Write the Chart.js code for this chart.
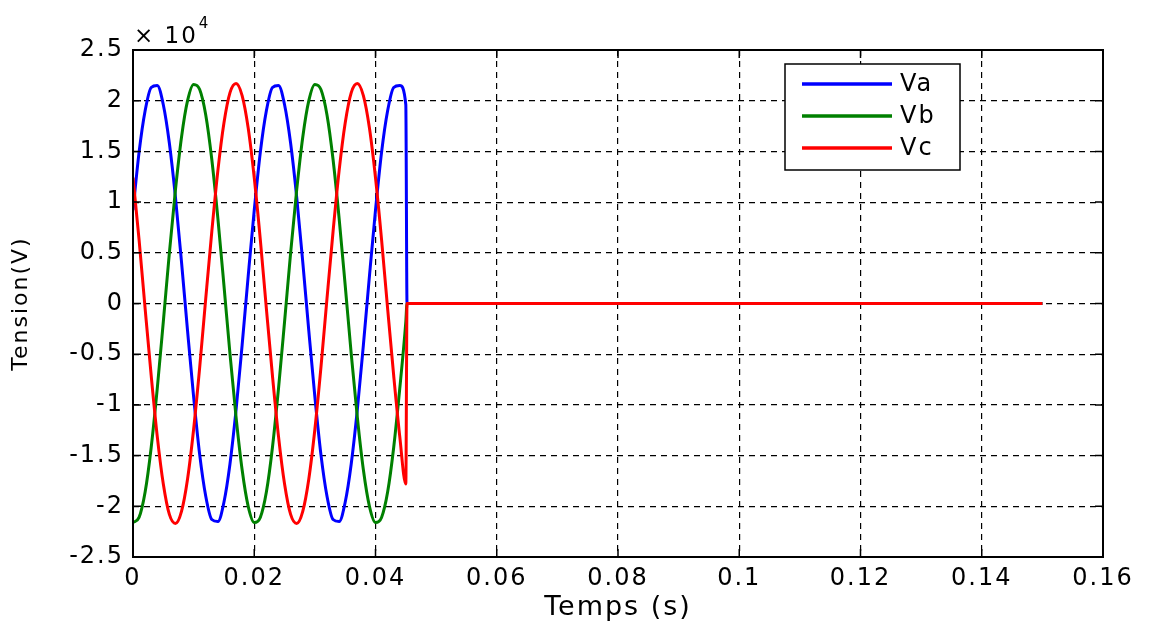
<!DOCTYPE html>
<html>
<head>
<meta charset="utf-8">
<title>Tension</title>
<script src="https://cdn.jsdelivr.net/npm/chart.js@4.4.1/dist/chart.umd.min.js"></script>
<style>
  body { margin: 0; background: #fff; }
  #wrap { width: 1149px; height: 624px; position: relative; }
</style>
</head>
<body>
<div id="wrap"><canvas id="tensionChart"></canvas></div>
<script>
// time in seconds (1 ms samples up to the fault, then the flat zero part)
const timeS = [
  0, 0.001, 0.002, 0.003, 0.004, 0.005, 0.006, 0.007, 0.008, 0.009,
  0.010, 0.011, 0.012, 0.013, 0.014, 0.015, 0.016, 0.017, 0.018, 0.019,
  0.020, 0.021, 0.022, 0.023, 0.024, 0.025, 0.026, 0.027, 0.028, 0.029,
  0.030, 0.031, 0.032, 0.033, 0.034, 0.035, 0.036, 0.037, 0.038, 0.039,
  0.040, 0.041, 0.042, 0.043, 0.044, 0.045, 0.0452, 0.15
];

// voltages, in units of 10^4 V
const va = [
  0.92, 1.49, 1.90, 2.13, 2.15, 1.96, 1.58, 1.05, 0.41, -0.27,
  -0.92, -1.49, -1.90, -2.13, -2.15, -1.96, -1.58, -1.05, -0.41, 0.27,
  0.92, 1.49, 1.90, 2.13, 2.15, 1.96, 1.58, 1.05, 0.41, -0.27,
  -0.92, -1.49, -1.90, -2.13, -2.15, -1.96, -1.58, -1.05, -0.41, 0.27,
  0.92, 1.49, 1.90, 2.13, 2.15, 1.96, 0, 0
];
const vb = [
  -2.16, -2.11, -1.86, -1.42, -0.84, -0.18, 0.50, 1.12, 1.64, 2.00,
  2.16, 2.11, 1.86, 1.42, 0.84, 0.18, -0.50, -1.12, -1.64, -2.00,
  -2.16, -2.11, -1.86, -1.42, -0.84, -0.18, 0.50, 1.12, 1.64, 2.00,
  2.16, 2.11, 1.86, 1.42, 0.84, 0.18, -0.50, -1.12, -1.64, -2.00,
  -2.16, -2.11, -1.86, -1.42, -0.84, -0.18, 0, 0
];
const vc = [
  1.24, 0.63, -0.05, -0.71, -1.31, -1.78, -2.08, -2.17, -2.05, -1.73,
  -1.24, -0.63, 0.05, 0.71, 1.31, 1.78, 2.08, 2.17, 2.05, 1.73,
  1.24, 0.63, -0.05, -0.71, -1.31, -1.78, -2.08, -2.17, -2.05, -1.73,
  -1.24, -0.63, 0.05, 0.71, 1.31, 1.78, 2.08, 2.17, 2.05, 1.73,
  1.24, 0.63, -0.05, -0.71, -1.31, -1.78, 0, 0
];

const xTicks = [0, 0.02, 0.04, 0.06, 0.08, 0.1, 0.12, 0.14, 0.16];
const xTickLabels = ['0', '0.02', '0.04', '0.06', '0.08', '0.1', '0.12', '0.14', '0.16'];
const yTicks = [-2.5, -2, -1.5, -1, -0.5, 0, 0.5, 1, 1.5, 2, 2.5];
const yTickLabels = ['-2.5', '-2', '-1.5', '-1', '-0.5', '0', '0.5', '1', '1.5', '2', '2.5'];

const seriesNames = ['Va', 'Vb', 'Vc'];
const seriesColors = ['#0000ff', '#008000', '#ff0000'];

function toPoints(values) {
    return values.map((v, i) => ({ x: timeS[i], y: v }));
}

const FONT = "'DejaVu Sans', sans-serif";

// frame, inner tick marks, exponent label and the boxed legend
const matlabLook = {
    id: 'matlabLook',
    beforeDraw(chart) {
        chart.ctx.letterSpacing = '2px';
    },
    afterDraw(chart) {
        const ctx = chart.ctx;
        const ca = chart.chartArea;
        const xs = chart.scales.x;
        const ys = chart.scales.y;
        ctx.save();

        ctx.strokeStyle = '#000';
        ctx.lineWidth = 1.5;
        ctx.setLineDash([]);
        ctx.beginPath();
        xTicks.forEach(v => {
            const px = xs.getPixelForValue(v);
            ctx.moveTo(px, ca.bottom); ctx.lineTo(px, ca.bottom - 8);
            ctx.moveTo(px, ca.top); ctx.lineTo(px, ca.top + 8);
        });
        yTicks.forEach(v => {
            const py = ys.getPixelForValue(v);
            ctx.moveTo(ca.left, py); ctx.lineTo(ca.left + 8, py);
            ctx.moveTo(ca.right, py); ctx.lineTo(ca.right - 8, py);
        });
        ctx.stroke();

        ctx.lineWidth = 2;
        ctx.strokeRect(ca.left, ca.top, ca.right - ca.left, ca.bottom - ca.top);

        // x 10^4
        ctx.fillStyle = '#000';
        ctx.textBaseline = 'alphabetic';
        ctx.textAlign = 'left';
        ctx.font = '23px ' + FONT;
        ctx.fillText('\u00d7 10', ca.left + 1, ca.top - 7);
        const w = ctx.measureText('\u00d7 10').width;
        ctx.font = '15px ' + FONT;
        ctx.fillText('4', ca.left + 2 + w, ca.top - 22);

        // legend
        const bx = ca.right - 318, by = ca.top + 14, bw = 175, bh = 106;
        ctx.fillStyle = '#fff';
        ctx.fillRect(bx, by, bw, bh);
        ctx.lineWidth = 1.5;
        ctx.strokeStyle = '#000';
        ctx.strokeRect(bx, by, bw, bh);
        ctx.font = '24px ' + FONT;
        ctx.textBaseline = 'middle';
        seriesNames.forEach((name, i) => {
            const ly = by + 20 + i * 32;
            ctx.strokeStyle = seriesColors[i];
            ctx.lineWidth = 3.5;
            ctx.beginPath();
            ctx.moveTo(bx + 17, ly);
            ctx.lineTo(bx + 107, ly);
            ctx.stroke();
            ctx.fillStyle = '#000';
            ctx.fillText(name, bx + 115, ly + 1);
        });
        ctx.restore();
    }
};

new Chart(document.getElementById('tensionChart'), {
    type: 'line',
    data: {
        datasets: [va, vb, vc].map((vals, i) => ({
            label: seriesNames[i],
            data: toPoints(vals),
            borderColor: seriesColors[i],
            backgroundColor: seriesColors[i],
            borderWidth: 3,
            pointRadius: 0,
            cubicInterpolationMode: 'monotone',
            fill: false,
            order: 3 - i
        }))
    },
    options: {
        responsive: true,
        maintainAspectRatio: false,
        animation: false,
        layout: { padding: { top: 50, right: 46, left: 0, bottom: 0 } },
        plugins: {
            legend: { display: false },
            tooltip: { enabled: false }
        },
        scales: {
            x: {
                type: 'linear',
                min: 0,
                max: 0.16,
                afterBuildTicks: scale => { scale.ticks = xTicks.map(v => ({ value: v })); },
                afterFit: scale => { scale.height = 67; },
                ticks: {
                    padding: 7,
                    color: '#000',
                    maxRotation: 0,
                    font: { family: FONT, size: 24 },
                    callback: (v, i) => xTickLabels[i]
                },
                grid: { color: '#000', lineWidth: 1.2, drawTicks: false },
                border: { display: false, dash: [6, 5] },
                title: {
                    display: true,
                    text: 'Temps (s)',
                    color: '#000',
                    font: { family: FONT, size: 27 },
                    padding: { top: 0, bottom: 0 }
                }
            },
            y: {
                min: -2.5,
                max: 2.5,
                afterBuildTicks: scale => { scale.ticks = yTicks.map(v => ({ value: v })); },
                afterFit: scale => { scale.width = 133; },
                ticks: {
                    padding: 9,
                    color: '#000',
                    font: { family: FONT, size: 24 },
                    callback: (v, i) => yTickLabels[i]
                },
                grid: { color: '#000', lineWidth: 1.2, drawTicks: false },
                border: { display: false, dash: [6, 5] },
                title: {
                    display: true,
                    text: 'Tension(V)',
                    color: '#000',
                    font: { family: FONT, size: 22 },
                    padding: { top: 8, bottom: 0 }
                }
            }
        }
    },
    plugins: [matlabLook]
});
</script>
</body>
</html>
